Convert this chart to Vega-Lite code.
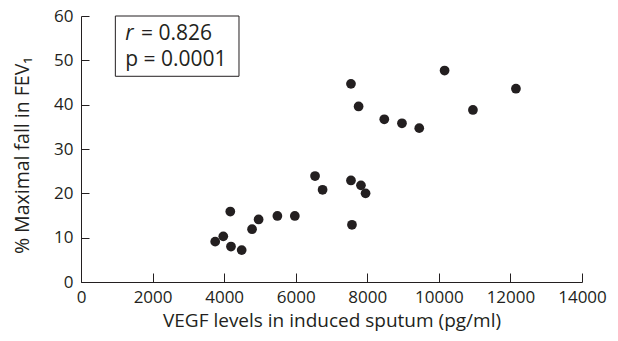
{
  "$schema": "https://vega.github.io/schema/vega-lite/v6.json",
  "width": 501,
  "height": 266,
  "autosize": "none",
  "padding": {"left": 81, "top": 16, "right": 36, "bottom": 59},
  "background": "white",
  "config": {"view": {"stroke": null}, "font": "Open Sans"},
  "layer": [
    {
      "data": {"values": [
        {"vegf": 3750, "fall": 9.1},
        {"vegf": 3976, "fall": 10.3},
        {"vegf": 4172, "fall": 15.9},
        {"vegf": 4191, "fall": 8.0},
        {"vegf": 4490, "fall": 7.2},
        {"vegf": 4780, "fall": 11.9},
        {"vegf": 4963, "fall": 14.1},
        {"vegf": 5488, "fall": 14.9},
        {"vegf": 5975, "fall": 14.9},
        {"vegf": 6540, "fall": 23.9},
        {"vegf": 6751, "fall": 20.8},
        {"vegf": 7544, "fall": 22.9},
        {"vegf": 7823, "fall": 21.8},
        {"vegf": 7952, "fall": 20.0},
        {"vegf": 7572, "fall": 12.9},
        {"vegf": 7544, "fall": 44.7},
        {"vegf": 7757, "fall": 39.6},
        {"vegf": 8475, "fall": 36.7},
        {"vegf": 8969, "fall": 35.8},
        {"vegf": 9452, "fall": 34.7},
        {"vegf": 10160, "fall": 47.7},
        {"vegf": 10952, "fall": 38.8},
        {"vegf": 12154, "fall": 43.6}
      ]},
      "mark": {"type": "circle", "size": 95, "color": "#231f20", "opacity": 1},
      "encoding": {
        "x": {
          "field": "vegf", "type": "quantitative",
          "scale": {"domain": [0, 14000], "nice": false, "zero": true},
          "axis": {
            "title": "VEGF levels in induced sputum (pg/ml)",
            "values": [0, 2000, 4000, 6000, 8000, 10000, 12000, 14000],
            "format": "d",
            "grid": false,
            "tickSize": -9,
            "labelPadding": 16,
            "labelFlush": false,
            "labelOverlap": false,
            "domainColor": "#231f20",
            "tickColor": "#231f20",
            "labelColor": "#231f20",
            "titleColor": "#231f20",
            "labelFontSize": 17,
            "titleFontSize": 19,
            "titleFontWeight": "normal",
            "titlePadding": 6
          }
        },
        "y": {
          "field": "fall", "type": "quantitative",
          "scale": {"domain": [0, 60], "nice": false},
          "axis": {
            "title": "% Maximal fall in FEV₁",
            "values": [0, 10, 20, 30, 40, 50, 60],
            "grid": false,
            "tickSize": -8,
            "labelPadding": 16,
            "labelOverlap": false,
            "labelFlush": false,
            "domainColor": "#231f20",
            "tickColor": "#231f20",
            "labelColor": "#231f20",
            "titleColor": "#231f20",
            "labelFontSize": 17,
            "titleFontSize": 19.5,
            "titleFontWeight": "normal",
            "titleX": -49,
            "titleY": 139
          }
        }
      }
    },
    {
      "data": {"values": [{}]},
      "mark": {"type": "rect", "fill": "white", "stroke": "#231f20", "strokeWidth": 1},
      "encoding": {
        "x": {"datum": 960},
        "x2": {"datum": 4415},
        "y": {"datum": 60},
        "y2": {"datum": 46.4}
      }
    },
    {
      "data": {"values": [{}]},
      "mark": {"type": "text", "text": "r", "fontStyle": "italic", "fontSize": 21, "align": "left", "baseline": "alphabetic", "color": "#231f20"},
      "encoding": {"x": {"datum": 1238}, "y": {"datum": 54.6}}
    },
    {
      "data": {"values": [{}]},
      "mark": {"type": "text", "text": "= 0.826", "fontSize": 21, "align": "left", "baseline": "alphabetic", "color": "#231f20"},
      "encoding": {"x": {"datum": 1676}, "y": {"datum": 54.6}}
    },
    {
      "data": {"values": [{}]},
      "mark": {"type": "text", "text": "p = 0.0001", "fontSize": 21, "align": "left", "baseline": "alphabetic", "color": "#231f20"},
      "encoding": {"x": {"datum": 1238}, "y": {"datum": 48.7}}
    }
  ]
}
